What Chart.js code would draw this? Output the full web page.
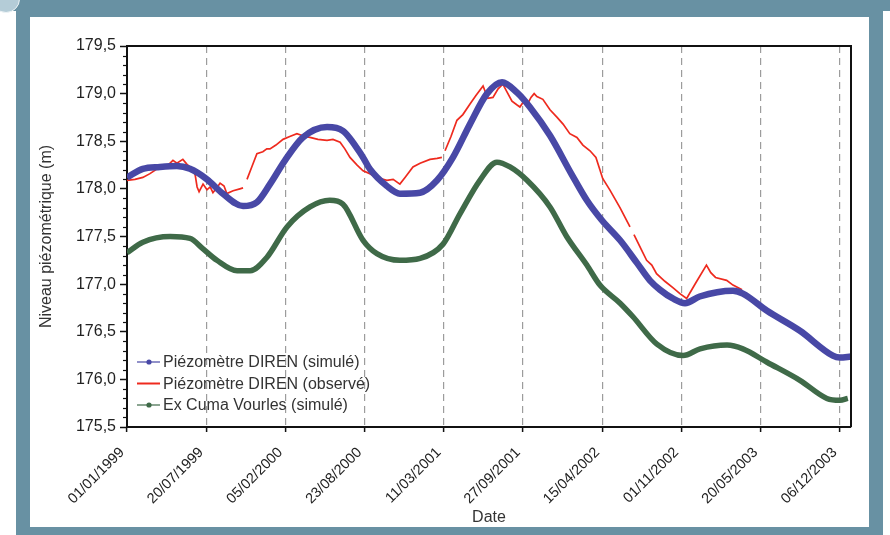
<!DOCTYPE html>
<html>
<head>
<meta charset="utf-8">
<script src="https://cdn.jsdelivr.net/npm/chart.js@4.4.0/dist/chart.umd.min.js"></script>
<style>
  body { margin: 0; background: #fff; }
  #frame { position: absolute; left: 16px; top: 0; width: 867px; height: 535px; background: #6891a3; }
  #topband { position: absolute; left: 0; top: 0; width: 890px; height: 11px; background: #6891a3; }
  #corner { position: absolute; left: -8px; top: -15px; width: 26px; height: 26px; border-radius: 50%;
            background: #b4ccd7; border: 1px solid #eef4f6; }
  #panel { position: absolute; left: 30px; top: 17px; width: 839px; height: 510px; background: #fff; }
  #chart { position: absolute; left: 0; top: 0; }
</style>
</head>
<body>
<div id="topband"></div>
<div id="frame"></div>
<div id="corner"></div>
<div id="panel"></div>
<canvas id="chart" width="890" height="535"></canvas>

<script>
// x values are days counted from 01/01/1999
const tickLabels = ['01/01/1999', '20/07/1999', '05/02/2000', '23/08/2000', '11/03/2001',
                    '27/09/2001', '15/04/2002', '01/11/2002', '20/05/2003', '06/12/2003'];
const tickDays = [0, 200, 400, 600, 800, 1000, 1200, 1400, 1600, 1800];
const yTicks = [175.5, 176.0, 176.5, 177.0, 177.5, 178.0, 178.5, 179.0, 179.5];

// Piézomètre DIREN (simulé)
const simDays = [0, 40, 83, 126, 159, 202, 242, 293, 328, 361, 399, 444, 505, 545, 596, 613, 656,
                 689, 740, 783, 823, 866, 909, 947, 985, 1017, 1068, 1123, 1161, 1199, 1245, 1288,
                 1320, 1346, 1378, 1409, 1446, 1530, 1555, 1616, 1699, 1782, 1800, 1828];
const simLevels = [178.12, 178.21, 178.23, 178.24, 178.21, 178.10, 177.95, 177.82, 177.86, 178.05,
                   178.30, 178.54, 178.65, 178.61, 178.33, 178.21, 178.03, 177.95, 177.96, 178.09,
                   178.33, 178.68, 179.00, 179.12, 179.01, 178.86, 178.56, 178.15, 177.88, 177.67,
                   177.46, 177.22, 177.04, 176.94, 176.85, 176.80, 176.87, 176.93, 176.90, 176.72,
                   176.51, 176.25, 176.23, 176.24];

// Piézomètre DIREN (observé) - null = gap in the record
const obsDays = [0, 20, 40, 58, 83, 101, 116, 126, 141, 151, 159, 172, 177, 182, 192, 202, 210, 217,
                 230, 235, 245, 252, 268, 285, 293, 298,
                 303, 316, 328, 343, 353, 361, 376, 394, 411, 429, 449, 462, 482, 505, 520, 538, 550,
                 563, 581, 596, 613, 631, 656, 672, 689, 702, 722, 740, 765, 783, 795, 799,
                 803, 818, 833, 848, 866, 881, 899, 911, 924, 937, 949, 959, 972, 985, 992, 1002,
                 1010, 1020, 1028, 1035, 1050, 1068, 1086, 1101, 1118, 1136, 1151, 1169, 1184, 1194,
                 1201, 1219, 1245, 1270, 1275,
                 1280, 1299, 1312, 1325, 1337, 1358, 1379, 1396, 1413, 1437, 1463, 1474, 1486, 1514,
                 1530, 1553];
const obsLevels = [178.09, 178.10, 178.12, 178.16, 178.23, 178.24, 178.30, 178.27, 178.31, 178.26,
                   178.23, 178.15, 178.02, 177.97, 178.05, 177.99, 178.02, 177.96, 178.03, 178.06,
                   178.03, 177.95, 177.98, 178.00, 178.01, null,
                   178.10, 178.24, 178.37, 178.39, 178.42, 178.42, 178.46, 178.52, 178.55, 178.58,
                   178.55, 178.54, 178.52, 178.51, 178.52, 178.49, 178.42, 178.33, 178.25, 178.19,
                   178.16, 178.12, 178.09, 178.10, 178.05, 178.12, 178.23, 178.27, 178.31, 178.32,
                   178.33, null,
                   178.40, 178.55, 178.72, 178.78, 178.89, 178.98, 179.08, 178.95, 178.96, 179.05,
                   179.10, 179.02, 178.92, 178.88, 178.86, 178.92, 178.88, 178.96, 179.00, 178.97,
                   178.94, 178.83, 178.75, 178.68, 178.58, 178.54, 178.46, 178.40, 178.33, 178.20,
                   178.11, 177.99, 177.80, 177.60, null,
                   177.52, 177.36, 177.25, 177.20, 177.11, 177.03, 176.96, 176.90, 176.85, 177.02,
                   177.20, 177.12, 177.07, 177.04, 176.99, 176.94];

// Ex Cuma Vourles (simulé)
const cumaDays = [0, 40, 109, 159, 192, 227, 278, 311, 353, 404, 462, 512, 545, 596, 631, 689, 740,
                  798, 841, 891, 934, 967, 1010, 1068, 1110, 1161, 1194, 1245, 1277, 1338,
                  1404, 1447, 1515, 1555, 1616, 1699, 1767, 1800, 1820];
const cumaLevels = [177.33, 177.44, 177.50, 177.48, 177.37, 177.25, 177.14, 177.14, 177.28, 177.60,
                    177.81, 177.88, 177.84, 177.46, 177.32, 177.25, 177.27, 177.42, 177.74, 178.09,
                    178.28, 178.23, 178.09, 177.81, 177.50, 177.20, 176.99, 176.80, 176.66,
                    176.37, 176.25, 176.32, 176.36, 176.32, 176.18, 175.99, 175.80, 175.78, 175.80];

const blue = '#4848a6';
const red = '#ee2a1e';
const green = '#3f6a48';

function pts(days, levels) {
  return days.map((d, i) => ({x: d, y: levels[i]}));
}

const boxAndLegend = {
  id: 'boxAndLegend',
  afterDatasetsDraw(chart) {
    const {ctx, chartArea: a, scales: {y}} = chart;
    ctx.save();
    // minor y ticks every 0.1
    ctx.strokeStyle = '#111';
    ctx.lineWidth = 1.2;
    for (let k = 1; k < 40; k++) {
      if (k % 5 === 0) continue;
      const py = Math.round(y.getPixelForValue(175.5 + k * 0.1)) + 0.5;
      ctx.beginPath();
      ctx.moveTo(a.left - 4, py);
      ctx.lineTo(a.left, py);
      ctx.stroke();
    }
    // top and right frame lines
    ctx.lineWidth = 2;
    ctx.beginPath();
    ctx.moveTo(a.left, a.top);
    ctx.lineTo(a.right, a.top);
    ctx.lineTo(a.right, a.bottom);
    ctx.stroke();

    // legend
    const items = [
      {label: chart.data.datasets[0].label, color: blue, dot: true},
      {label: chart.data.datasets[1].label, color: red, dot: false},
      {label: chart.data.datasets[2].label, color: green, dot: true}
    ];
    ctx.font = '16px "Liberation Sans", Arial, sans-serif';
    ctx.textBaseline = 'middle';
    items.forEach((it, i) => {
      const ly = 362 + i * 21.5;
      ctx.strokeStyle = it.color;
      ctx.lineWidth = it.dot ? 1.2 : 2;
      ctx.beginPath();
      ctx.moveTo(137, ly);
      ctx.lineTo(160, ly);
      ctx.stroke();
      if (it.dot) {
        ctx.fillStyle = it.color;
        ctx.beginPath();
        ctx.arc(149, ly, 2.6, 0, Math.PI * 2);
        ctx.fill();
      }
      ctx.fillStyle = '#333';
      ctx.fillText(it.label, 163, ly + 1);
    });
    ctx.restore();
  }
};

Chart.defaults.font.family = '"Liberation Sans", Arial, sans-serif';
Chart.defaults.color = '#222';

new Chart(document.getElementById('chart'), {
  type: 'line',
  data: {
    datasets: [
      {
        label: 'Piézomètre DIREN (simulé)',
        data: pts(simDays, simLevels),
        borderColor: blue,
        borderWidth: 6.5,
        cubicInterpolationMode: 'monotone',
        pointRadius: 0
      },
      {
        label: 'Piézomètre DIREN (observé)',
        data: pts(obsDays, obsLevels),
        borderColor: red,
        borderWidth: 1.7,
        tension: 0,
        spanGaps: false,
        pointRadius: 0
      },
      {
        label: 'Ex Cuma Vourles (simulé)',
        data: pts(cumaDays, cumaLevels),
        borderColor: green,
        borderWidth: 5.5,
        cubicInterpolationMode: 'monotone',
        pointRadius: 0
      }
    ]
  },
  options: {
    responsive: false,
    animation: false,
    events: [],
    layout: { padding: { top: 46, right: 39, left: 0, bottom: 0 } },
    plugins: { legend: { display: false }, tooltip: { enabled: false } },
    scales: {
      x: {
        type: 'linear',
        min: 0,
        max: 1828,
        afterBuildTicks: s => { s.ticks = tickDays.map(v => ({value: v})); },
        afterFit: s => { s.height = 108; },
        ticks: {
          autoSkip: false,
          minRotation: 45,
          maxRotation: 45,
          padding: 12,
          labelOffset: -5,
          font: { size: 14.5 },
          callback: (v, i) => tickLabels[i]
        },
        grid: {
          color: '#9c9c9c',
          lineWidth: 1.2,
          tickLength: 5,
          tickColor: '#111',
          tickBorderDash: [],
          tickWidth: 1.5
        },
        border: { color: '#111', width: 2, dash: [7, 5] },
        title: {
          display: true,
          text: 'Date',
          font: { size: 16 },
          color: '#333',
          padding: { top: 0, bottom: 8 }
        }
      },
      y: {
        min: 175.5,
        max: 179.5,
        afterBuildTicks: s => { s.ticks = yTicks.map(v => ({value: v})); },
        afterFit: s => { s.width = 127; },
        ticks: {
          padding: 4,
          font: { size: 16 },
          callback: v => v.toFixed(1).replace('.', ',')
        },
        grid: {
          drawOnChartArea: false,
          tickLength: 7,
          tickColor: '#111',
          tickWidth: 1.5
        },
        border: { color: '#111', width: 2 },
        title: {
          display: true,
          text: 'Niveau piézométrique (m)',
          font: { size: 16 },
          color: '#333',
          padding: { top: 37, bottom: 0 }
        }
      }
    }
  },
  plugins: [boxAndLegend]
});
</script>
</body>
</html>
